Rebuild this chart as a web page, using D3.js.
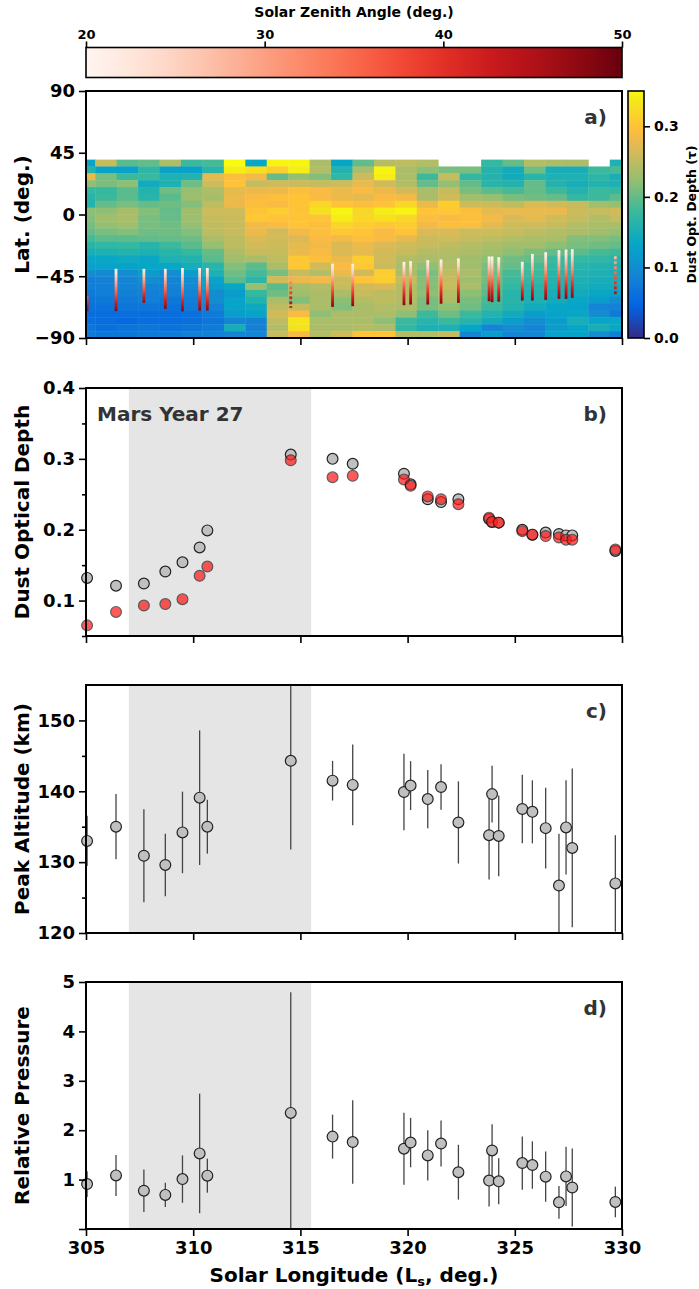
<!DOCTYPE html>
<html>
<head>
<meta charset="utf-8">
<script src="https://cdn.jsdelivr.net/npm/d3@7"></script>
<style>
  body { margin: 0; background: #fff; }
  svg text { font-family: "DejaVu Sans", sans-serif; font-weight: bold; }
</style>
</head>
<body>
<svg id="fig" width="699" height="1289"></svg>
<script>
// ---------------- data ----------------
// Solar longitude of each occultation profile
const lsObs = [305.05, 306.4, 307.7, 308.7, 309.5, 310.3, 310.66, 314.55, 316.5, 317.44,
  319.83, 320.14, 320.94, 321.56, 322.37, 323.8, 323.94, 324.25, 325.35, 325.82,
  326.44, 327.06, 327.39, 327.68, 329.69];
// dust optical depth: column value (grey) and value at the profile location (red)
const tauColumn = [0.132, 0.121, 0.124, 0.141, 0.154, 0.175, 0.199, 0.306, 0.300, 0.293,
  0.279, 0.264, 0.243, 0.239, 0.243, 0.215, 0.211, 0.210, 0.200, 0.193,
  0.196, 0.194, 0.192, 0.192, 0.170];
const tauLocal = [0.065, 0.084, 0.093, 0.095, 0.102, 0.135, 0.148, 0.298, 0.274, 0.276,
  0.271, 0.262, 0.247, 0.243, 0.236, 0.217, 0.211, 0.210, 0.198, 0.193,
  0.191, 0.189, 0.186, 0.186, 0.172];
// peak altitude (km) and its uncertainty
const peakAlt = [133.0, 135.0, 130.9, 129.6, 134.2, 139.1, 135.0, 144.3, 141.5, 140.9,
  139.9, 140.8, 138.9, 140.6, 135.6, 133.8, 139.6, 133.7, 137.5, 137.1,
  134.8, 126.7, 134.9, 132.0, 127.0];
const peakAltErr = [3.55, 4.6, 6.55, 4.4, 5.75, 9.5, 3.8, 12.5, 2.8, 5.7,
  5.4, 3.45, 4.1, 3.2, 5.8, 6.25, 4.0, 5.7, 4.85, 4.45,
  5.7, 7.3, 6.65, 11.2, 6.8];
// relative pressure at the peak and its uncertainty
const relPres = [0.91, 1.085, 0.775, 0.69, 1.01, 1.53, 1.08, 2.35, 1.87, 1.76,
  1.625, 1.75, 1.49, 1.73, 1.15, 0.98, 1.59, 0.965, 1.335, 1.295,
  1.06, 0.54, 1.065, 0.84, 0.547];
const relPresErr = [0.26, 0.415, 0.43, 0.245, 0.48, 1.21, 0.345, 2.44, 0.445, 0.845,
  0.73, 0.5, 0.51, 0.465, 0.555, 0.525, 0.53, 0.465, 0.54, 0.48,
  0.51, 0.33, 0.6, 0.79, 0.31];
// latitude extent and solar zenith angle range swept by each occultation
const stripLatTop = [-59.5, -39.6, -39.6, -39.6, -39, -39, -39, -45, -35.9, -35.9,
  -34.5, -34, -33.3, -32.8, -32, -30.6, -30.6, -31.1, -34.5, -28.7,
  -27.5, -26, -25.5, -25.3, -30.4];
const stripLatBot = [-70.4, -70.4, -64.4, -68.8, -70.6, -70, -70, -68, -67.3, -66.8,
  -66.1, -65.6, -65.6, -65, -64.4, -63.2, -63.9, -63.5, -62.7, -62.7,
  -62.2, -61.5, -61.5, -60.7, -59.5];
const stripSzaTop = [36, 20, 21, 21, 20, 20, 20, 29, 20, 20,
  20, 20, 20, 20, 20, 20, 20, 20, 20, 20,
  20, 20, 20, 20, 27];
const stripSzaBot = [47, 48, 47, 48, 48, 48, 48, 47, 48, 48,
  48, 48, 48, 48, 48, 48, 48, 48, 48, 48,
  48, 48, 48, 48, 46];
const sparseStripLs = [314.55, 329.69];

// gridded dust optical depth map: rows from 40N southward in 5 deg bands,
// columns 1 deg of Ls wide starting at Ls 304.43 (null = no retrieval)
const gridLsStart = 304.43;
const gridLatTop = 40;
const tauGrid = [
  [.130,.255,.195,.200,.240,.180,.185,.350,.135,.345,.345,.238,.132,.198,.245,.250,.243,null,null,.175,.200,.243,.238,.238,null,.155],
  [.160,.130,.125,.170,.125,.125,.165,.340,.330,.310,.340,.243,.160,.238,.345,.238,.220,.210,.210,.162,.145,.205,.150,.150,.180,.185],
  [.280,.210,.180,.178,.155,.160,.275,.295,.285,.200,.225,.215,.172,.258,.340,.238,.180,.255,.172,.162,.145,.165,.155,.155,.168,.150],
  [.220,.210,.220,.145,.155,.205,.260,.300,.255,.262,.258,.255,.260,.278,.262,.243,.200,.225,.200,.165,.162,.200,.162,.150,.160,.155],
  [.175,.175,.195,.160,.205,.225,.240,.275,.280,.280,.295,.290,.280,.290,.280,.262,.238,.255,.210,.195,.185,.200,.180,.162,.180,.175],
  [.165,.180,.195,.165,.195,.230,.235,.280,.290,.295,.300,.290,.280,.275,.290,.285,.238,.262,.232,.225,.210,.205,.200,.172,.180,.195],
  [.160,.200,.210,.200,.205,.215,.250,.280,.295,.290,.300,.320,.300,.295,.300,.320,.280,.310,.258,.258,.250,.268,.262,.255,.232,.225],
  [.220,.220,.235,.215,.200,.232,.260,.260,.300,.310,.300,.330,.345,.320,.340,.345,.300,.305,.295,.275,.278,.278,.280,.258,.255,.262],
  [.215,.232,.238,.210,.200,.230,.255,.258,.305,.300,.300,.300,.340,.320,.330,.320,.295,.290,.295,.285,.268,.275,.262,.255,.243,.255],
  [.210,.225,.232,.210,.205,.225,.252,.256,.285,.290,.300,.295,.320,.310,.305,.310,.285,.295,.295,.275,.260,.260,.255,.243,.238,.238],
  [.200,.210,.215,.205,.205,.215,.250,.255,.280,.262,.285,.295,.305,.300,.290,.300,.268,.268,.258,.260,.255,.250,.243,.238,.232,.225],
  [.185,.195,.195,.198,.200,.205,.238,.250,.268,.262,.268,.290,.285,.295,.290,.275,.258,.260,.255,.250,.243,.238,.238,.215,.215,.210],
  [.165,.172,.175,.165,.180,.195,.225,.250,.262,.258,.275,.285,.268,.280,.268,.260,.255,.250,.243,.238,.232,.232,.220,.210,.205,.200],
  [.150,.155,.160,.155,.165,.175,.200,.238,.255,.255,.280,.290,.268,.275,.262,.255,.243,.243,.238,.232,.220,.210,.200,.195,.185,.180],
  [.135,.135,.140,.135,.155,.160,.195,.232,.238,.250,.305,.295,.280,.310,.262,.243,.238,.240,.232,.220,.205,.200,.180,.175,.172,.165],
  [.125,.128,.128,.132,.135,.148,.165,.215,.195,.238,.305,.262,.290,.305,.258,.238,.220,.243,.232,.210,.200,.185,.172,.165,.160,.155],
  [.100,.095,.100,.120,.100,.120,.155,.205,.185,.210,.255,.243,.280,.262,.310,.238,.210,.250,.238,.205,.185,.180,.165,.160,.155,.150],
  [.080,.085,.090,.100,.090,.100,.128,.195,.168,.262,.280,.285,.258,.300,.310,.255,.215,.255,.232,.205,.180,.172,.160,.155,.150,.150],
  [.080,.083,.087,.087,.085,.095,.120,.135,.225,.195,.238,.243,.255,.262,.268,.243,.215,.255,.238,.200,.172,.165,.155,.150,.145,.145],
  [.075,.080,.083,.083,.083,.087,.100,.120,.175,.205,.232,.238,.238,.255,.250,.243,.220,.243,.220,.195,.165,.160,.150,.145,.135,.128],
  [.068,.072,.075,.080,.072,.080,.100,.128,.160,.238,.215,.238,.220,.243,.250,.243,.210,.238,.210,.185,.165,.155,.145,.135,.120,.100],
  [.065,.065,.070,.070,.065,.075,.085,.130,.140,.250,.255,.238,.215,.238,.243,.238,.210,.220,.205,.180,.160,.145,.132,.128,.090,.085],
  [.058,.058,.060,.058,.058,.062,.075,.120,.128,.262,.290,.220,.238,.238,.238,.220,.180,.205,.180,.160,.145,.120,.128,.135,.100,.075],
  [.060,.058,.052,.058,.058,.060,.070,.090,.085,.250,.335,.238,.238,.238,.220,.180,.165,.180,.165,.145,.120,.100,.120,.150,.132,.135],
  [.070,.060,.068,.070,.065,.070,.075,.148,.085,.243,.330,.238,.238,.243,.238,.172,.155,.155,.132,.090,.100,.090,.120,.132,.150,.135],
  [.075,.070,.070,.075,.075,.083,.083,.090,.090,.255,.290,.243,.262,.300,.300,.243,.243,.255,.090,.120,.090,.090,.128,.128,.100,.080]
];

// dust-storm interval (shaded) and tick values
const stormLs = [307, 315.5];
const lsTicks = [305, 310, 315, 320, 325, 330];
const latTicks = [-90, -45, 0, 45, 90];
const tauTicks = [0.1, 0.2, 0.3, 0.4];
const tauMinorTicks = [0.05, 0.15, 0.25, 0.35];
const altTicks = [120, 130, 140, 150];
const altMinorTicks = [125, 135, 145];
const presTicks = [0, 1, 2, 3, 4, 5];
const szaTicks = [20, 30, 40, 50];
const tauCbarTicks = [0, 0.1, 0.2, 0.3];
// parula colormap: [position, r, g, b]
const parulaStops = [
  [0 / 63, 0.2081, 0.1663, 0.5292],
  [8 / 63, 0.0117, 0.3875, 0.8820],
  [16 / 63, 0.0793, 0.5200, 0.8312],
  [24 / 63, 0.0228, 0.6535, 0.7768],
  [32 / 63, 0.2178, 0.7250, 0.6193],
  [40 / 63, 0.5709, 0.7485, 0.4494],
  [48 / 63, 0.8507, 0.7299, 0.3360],
  [52 / 63, 0.9739, 0.7314, 0.2666],
  [54 / 63, 0.9990, 0.7653, 0.2164],
  [56 / 63, 0.9880, 0.8066, 0.1794],
  [60 / 63, 0.9589, 0.8949, 0.1132],
  [63 / 63, 0.9763, 0.9831, 0.0538]
];

// ---------------- layout ----------------
const svg = d3.select('#fig');
const X0 = 86, X1 = 622;
const panels = {
  a: { top: 91, bottom: 338 },
  b: { top: 388, bottom: 636 },
  c: { top: 685, bottom: 933 },
  d: { top: 982, bottom: 1229 }
};
const x = d3.scaleLinear().domain([305, 330]).range([X0, X1]);
const defs = svg.append('defs');

const tauMax = 0.35;
const parula = d3.scaleLinear()
  .domain(parulaStops.map(s => s[0] * tauMax))
  .range(parulaStops.map(s => d3.rgb(s[1] * 255, s[2] * 255, s[3] * 255)))
  .interpolate(d3.interpolateRgb).clamp(true);
const szaScaleColor = t => d3.interpolateReds((t - 20) / 30);

function styleAxis(g, size) {
  g.selectAll('path.domain').remove();
  g.selectAll('.tick line').attr('stroke', '#000').attr('stroke-width', 1.6);
  g.selectAll('.tick text').attr('fill', '#000').style('font-size', size + 'px')
    .style('font-family', '"DejaVu Sans", sans-serif').style('font-weight', 'bold');
}

function frame(p) {
  svg.append('rect').attr('x', X0).attr('y', p.top).attr('width', X1 - X0)
    .attr('height', p.bottom - p.top).attr('fill', 'none')
    .attr('stroke', '#000').attr('stroke-width', 2);
}

function xTicks(p, withLabels) {
  const g = svg.append('g').attr('transform', `translate(0,${p.bottom})`)
    .call(d3.axisBottom(x).tickValues(lsTicks).tickSize(7).tickPadding(5)
      .tickFormat(withLabels ? d3.format('d') : () => ''));
  styleAxis(g, 18);
}

function yAxis(p, y, major, minor, fmt) {
  const g = svg.append('g').attr('transform', `translate(${X0},0)`)
    .call(d3.axisLeft(y).tickValues(major).tickSize(7).tickPadding(4).tickFormat(fmt));
  styleAxis(g, 18);
  if (minor) {
    const gm = svg.append('g').attr('transform', `translate(${X0},0)`)
      .call(d3.axisLeft(y).tickValues(minor).tickSize(4).tickFormat(() => ''));
    styleAxis(gm, 18);
  }
}

function yTitle(p, text, xPos) {
  svg.append('text')
    .attr('transform', `translate(${xPos},${(p.top + p.bottom) / 2}) rotate(-90)`)
    .attr('text-anchor', 'middle').style('font-size', '20px').attr('fill', '#000')
    .text(text);
}

function panelLabel(p, text) {
  svg.append('text').attr('x', 607).attr('y', p.top + 33).attr('text-anchor', 'end')
    .style('font-size', '20px').attr('fill', '#333').text(text);
}

function shade(p) {
  svg.append('rect').attr('x', x(stormLs[0])).attr('y', p.top)
    .attr('width', x(stormLs[1]) - x(stormLs[0])).attr('height', p.bottom - p.top)
    .attr('fill', '#e5e5e5');
}

// ---------------- top colour bar (solar zenith angle) ----------------
const szaX = d3.scaleLinear().domain([20, 50]).range([X0, X1]);
const gSza = defs.append('linearGradient').attr('id', 'szaGrad')
  .attr('x1', '0%').attr('x2', '100%').attr('y1', '0%').attr('y2', '0%');
d3.range(0, 1.0001, 0.05).forEach(t => gSza.append('stop')
  .attr('offset', (t * 100) + '%').attr('stop-color', d3.interpolateReds(t)));
svg.append('rect').attr('x', X0).attr('y', 47.5).attr('width', X1 - X0).attr('height', 30)
  .attr('fill', 'url(#szaGrad)').attr('stroke', '#000').attr('stroke-width', 1.6);
const szaAxis = svg.append('g').attr('transform', 'translate(0,47.5)')
  .call(d3.axisTop(szaX).tickValues(szaTicks).tickSize(6).tickPadding(3).tickFormat(d3.format('d')));
styleAxis(szaAxis, 13);
svg.append('text').attr('x', (X0 + X1) / 2).attr('y', 17).attr('text-anchor', 'middle')
  .style('font-size', '14px').attr('fill', '#000').text('Solar Zenith Angle (deg.)');

// ---------------- panel a: latitude / Ls dust map ----------------
const pa = panels.a;
const yLat = d3.scaleLinear().domain([-90, 90]).range([pa.bottom, pa.top]);
defs.append('clipPath').attr('id', 'clipA').append('rect')
  .attr('x', X0).attr('y', pa.top).attr('width', X1 - X0).attr('height', pa.bottom - pa.top);
const cells = [];
tauGrid.forEach((row, r) => row.forEach((v, c) => {
  if (v !== null) cells.push({ r, c, v });
}));
svg.append('g').attr('clip-path', 'url(#clipA)').selectAll('rect').data(cells).join('rect')
  .attr('x', d => x(gridLsStart + d.c))
  .attr('width', d => x(gridLsStart + d.c + 1) - x(gridLsStart + d.c) + 0.4)
  .attr('y', d => yLat(gridLatTop - 5 * d.r))
  .attr('height', d => yLat(gridLatTop - 5 * d.r - 5) - yLat(gridLatTop - 5 * d.r) + 0.4)
  .attr('fill', d => parula(d.v));

// occultation tracks coloured by solar zenith angle
const strips = lsObs.map((ls, i) => ({
  ls, i, top: stripLatTop[i], bot: stripLatBot[i], s0: stripSzaTop[i], s1: stripSzaBot[i]
}));
strips.forEach(s => {
  const g = defs.append('linearGradient').attr('id', 'strip' + s.i)
    .attr('gradientUnits', 'userSpaceOnUse')
    .attr('x1', 0).attr('x2', 0).attr('y1', yLat(s.top)).attr('y2', yLat(s.bot));
  d3.range(0, 1.0001, 0.1).forEach(t => g.append('stop')
    .attr('offset', (t * 100) + '%').attr('stop-color', szaScaleColor(s.s0 + (s.s1 - s.s0) * t)));
});
svg.append('g').attr('clip-path', 'url(#clipA)').selectAll('line').data(strips).join('line')
  .attr('x1', d => x(d.ls)).attr('x2', d => x(d.ls))
  .attr('y1', d => yLat(d.top)).attr('y2', d => yLat(d.bot))
  .attr('stroke', d => `url(#strip${d.i})`).attr('stroke-width', 2.8)
  .attr('stroke-dasharray', d => sparseStripLs.includes(d.ls) ? '3,2' : null);

frame(pa);
xTicks(pa, false);
yAxis(pa, yLat, latTicks, null, d3.format('d'));
yTitle(pa, 'Lat. (deg.)', 29);
panelLabel(pa, 'a)');

// right colour bar (dust optical depth)
const cbY = d3.scaleLinear().domain([0, tauMax]).range([pa.bottom, pa.top]);
const gTau = defs.append('linearGradient').attr('id', 'tauGrad')
  .attr('x1', 0).attr('x2', 0).attr('y1', 1).attr('y2', 0);
d3.range(0, 1.0001, 0.02).forEach(t => gTau.append('stop')
  .attr('offset', (t * 100) + '%').attr('stop-color', parula(t * tauMax)));
svg.append('rect').attr('x', 628).attr('y', pa.top).attr('width', 16).attr('height', pa.bottom - pa.top)
  .attr('fill', 'url(#tauGrad)').attr('stroke', '#000').attr('stroke-width', 1.6);
const cbAxis = svg.append('g').attr('transform', 'translate(644,0)')
  .call(d3.axisRight(cbY).tickValues(tauCbarTicks).tickSize(6).tickPadding(4).tickFormat(d3.format('.1f')));
styleAxis(cbAxis, 14);
svg.append('text')
  .attr('transform', `translate(696,${(pa.top + pa.bottom) / 2}) rotate(-90)`)
  .attr('text-anchor', 'middle').style('font-size', '12.5px').attr('fill', '#000')
  .text('Dust Opt. Depth (τ)');

// ---------------- panel b: dust optical depth ----------------
const pb = panels.b;
const yTau = d3.scaleLinear().domain([0.05, 0.4]).range([pb.bottom, pb.top]);
shade(pb);
svg.append('text').attr('x', 97).attr('y', pb.top + 33).style('font-size', '20px')
  .attr('fill', '#333').text('Mars Year 27');
svg.append('g').selectAll('circle').data(lsObs).join('circle')
  .attr('cx', d => x(d)).attr('cy', (d, i) => yTau(tauColumn[i])).attr('r', 5.4)
  .attr('fill', '#c0c0c0').attr('stroke', '#222').attr('stroke-width', 1.2);
svg.append('g').selectAll('circle').data(lsObs).join('circle')
  .attr('cx', d => x(d)).attr('cy', (d, i) => yTau(tauLocal[i])).attr('r', 5.4)
  .attr('fill', '#ff1a1a').attr('stroke', '#222').attr('stroke-width', 1.2)
  .attr('opacity', 0.72);
frame(pb);
xTicks(pb, false);
yAxis(pb, yTau, tauTicks, tauMinorTicks, d3.format('.1f'));
yTitle(pb, 'Dust Optical Depth', 29);
panelLabel(pb, 'b)');

// ---------------- panel c / d: error-bar panels ----------------
function errPanel(p, y, vals, errs, major, minor, fmt, title, label, lastPanel) {
  shade(p);
  defs.append('clipPath').attr('id', 'clip' + label).append('rect')
    .attr('x', X0 - 8).attr('y', p.top).attr('width', X1 - X0 + 16).attr('height', p.bottom - p.top);
  const g = svg.append('g').attr('clip-path', `url(#clip${label})`);
  g.selectAll('line').data(lsObs).join('line')
    .attr('x1', d => x(d)).attr('x2', d => x(d))
    .attr('y1', (d, i) => y(vals[i] + errs[i])).attr('y2', (d, i) => y(vals[i] - errs[i]))
    .attr('stroke', '#444').attr('stroke-width', 1.3);
  g.selectAll('circle').data(lsObs).join('circle')
    .attr('cx', d => x(d)).attr('cy', (d, i) => y(vals[i])).attr('r', 5.4)
    .attr('fill', '#c0c0c0').attr('stroke', '#222').attr('stroke-width', 1.2);
  frame(p);
  xTicks(p, lastPanel);
  yAxis(p, y, major, minor, fmt);
  yTitle(p, title, 29);
  panelLabel(p, label + ')');
}
const pc = panels.c;
errPanel(pc, d3.scaleLinear().domain([120, 155]).range([pc.bottom, pc.top]),
  peakAlt, peakAltErr, altTicks, altMinorTicks, d3.format('d'), 'Peak Altitude (km)', 'c', false);
const pd = panels.d;
errPanel(pd, d3.scaleLinear().domain([0, 5]).range([pd.bottom, pd.top]),
  relPres, relPresErr, presTicks, null, d => d === 0 ? '' : d3.format('d')(d), 'Relative Pressure', 'd', true);

// x-axis title with subscript
const xt = svg.append('text').attr('x', (X0 + X1) / 2).attr('y', 1282)
  .attr('text-anchor', 'middle').style('font-size', '20px').attr('fill', '#000');
xt.append('tspan').text('Solar Longitude (L');
xt.append('tspan').attr('dy', 4).style('font-size', '13px').text('s');
xt.append('tspan').attr('dy', -4).text(', deg.)');
</script>
</body>
</html>
